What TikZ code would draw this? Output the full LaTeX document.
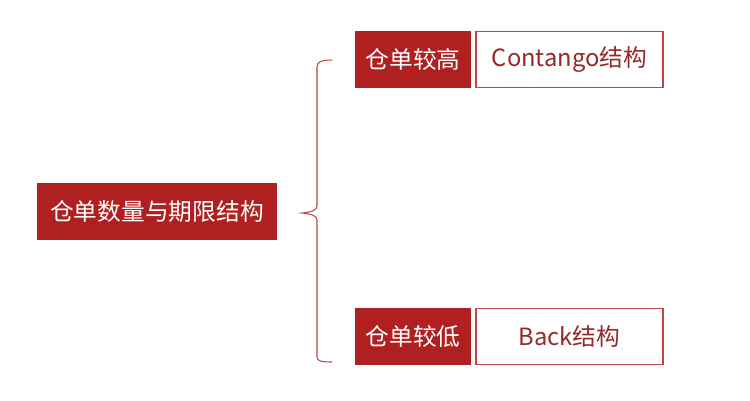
\documentclass[tikz,border=0pt]{standalone}
\usepackage{fontspec}
\newfontfamily\cjk{Noto Sans CJK SC}
\usetikzlibrary{positioning}
\definecolor{warered}{RGB}{176,32,32}
\definecolor{waretext}{RGB}{150,40,40}
\definecolor{wareline}{RGB}{190,70,70}
\begin{document}
\begin{tikzpicture}[x=0.02cm, y=-0.02cm, node distance=0.08cm]
    % Styles
    \tikzset{
        mainbox/.style={rectangle, fill=warered, text=white, inner sep=0pt,
            font=\cjk\fontsize{13.5}{16}\selectfont, minimum height=1.14cm},
        tagbox/.style={mainbox, minimum width=2.32cm},
        resultbox/.style={rectangle, draw=wareline, line width=0.7pt, fill=white,
            text=waretext, inner sep=0pt, font=\cjk\fontsize{13.5}{16}\selectfont,
            minimum width=3.74cm, minimum height=1.12cm},
        bracket/.style={draw=wareline, line width=0.6pt}
    }
    \useasboundingbox (0,0) rectangle (750,400);

    % === LEFT: topic ===
    \node [mainbox, minimum width=4.8cm] (stock) at (157,211.5) {仓单数量与期限结构};

    % === RIGHT: cases ===
    \node [tagbox] (high) at (413,59.5) {仓单较高};
    \node [resultbox, right=of high] (contango) {Contango结构};

    \node [tagbox] (low) at (413,336.5) {仓单较低};
    \node [resultbox, right=of low] (back) {Back结构};

    % === Brace ===
    \coordinate (tip) at (302,213);
    \draw [bracket] (332,60) .. controls (321,60) and (317,62) .. (317,67)
        -- (317,206) .. controls (317,210) and (312,212) .. (tip)
        .. controls (312,214) and (317,216) .. (317,220)
        -- (317,357) .. controls (317,361) and (321,362) .. (332,362);
\end{tikzpicture}
\end{document}
